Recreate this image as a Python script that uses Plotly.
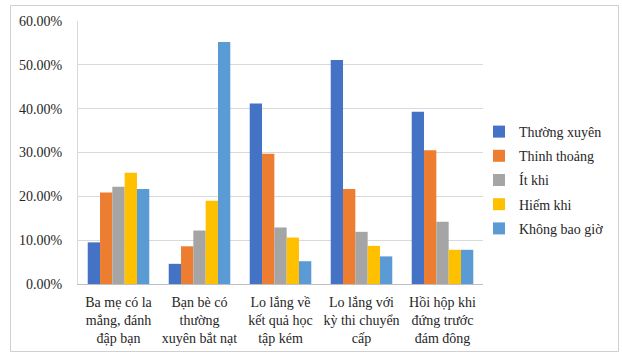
import plotly.graph_objects as go

# Survey categories (x axis), one multi-line label each
categories = [
    "Ba mẹ có la<br>mắng, đánh<br>đập bạn",
    "Bạn bè có<br>thường<br>xuyên bắt nạt",
    "Lo lắng về<br>kết quả học<br>tập kém",
    "Lo lắng với<br>kỳ thi chuyển<br>cấp",
    "Hồi hộp khi<br>đứng trước<br>đám đông",
]

# Response frequency series (percent)
thuong_xuyen = [9.5, 4.6, 41.2, 51.1, 39.3]
thinh_thoang = [20.9, 8.6, 29.7, 21.7, 30.5]
it_khi = [22.2, 12.2, 12.9, 11.9, 14.2]
hiem_khi = [25.4, 19.0, 10.6, 8.7, 7.8]
khong_bao_gio = [21.7, 55.2, 5.2, 6.3, 7.8]

series_names = ["Thường xuyên", "Thỉnh thoảng", "Ít khi", "Hiếm khi", "Không bao giờ"]
series_values = [thuong_xuyen, thinh_thoang, it_khi, hiem_khi, khong_bao_gio]
colors = ["#4472C4", "#ED7D31", "#A5A5A5", "#FFC000", "#5B9BD5"]

y_ticks = [0, 10, 20, 30, 40, 50, 60]
y_tick_text = [f"{v:.2f}%" for v in y_ticks]

FONT = "'Times New Roman', 'Liberation Serif', serif"
W, H = 622, 354
L, R, T, B = 78, 139, 21, 70

fig = go.Figure()
for i, (name, vals, col) in enumerate(zip(series_names, series_values, colors)):
    fig.add_trace(go.Bar(
        x=categories, y=vals, name=name, marker_color=col,
        marker_line_width=0, legendgroup=f"g{i}",
    ))

pw = W - L - R
ph = H - T - B

def px_to_paper_x(px):
    return (px - L) / pw

def px_to_paper_y(py):
    return (H - B - py) / ph

fig.update_layout(
    width=W, height=H,
    margin=dict(l=L, r=R, t=T, b=B, autoexpand=False),
    paper_bgcolor="white", plot_bgcolor="white",
    barmode="group", bargap=0.24, bargroupgap=0,
    font=dict(family=FONT, size=14, color="#262626"),
    showlegend=True,
    legend=dict(
        x=px_to_paper_x(479), y=px_to_paper_y(116), xanchor="left", yanchor="top",
        font=dict(family=FONT, size=14, color="#262626"),
        tracegroupgap=3, itemwidth=30, bgcolor="rgba(0,0,0,0)",
    ),
    xaxis=dict(
        showgrid=False, showline=True, linecolor="#BFBFBF", linewidth=1,
        ticks="", tickangle=0,
        tickfont=dict(family=FONT, size=14, color="#262626"),
        ticklabelstandoff=5, automargin=False,
    ),
    yaxis=dict(
        range=[0, 60], tickvals=y_ticks, ticktext=y_tick_text,
        showgrid=True, gridcolor="#D9D9D9", gridwidth=1,
        showline=True, linecolor="#D9D9D9", linewidth=1,
        zeroline=False, ticks="", automargin=False,
        tickfont=dict(family=FONT, size=14, color="#262626"),
        ticklabelstandoff=12,
    ),
    shapes=[dict(
        type="rect", xref="paper", yref="paper",
        x0=px_to_paper_x(10.5), x1=px_to_paper_x(618.5),
        y0=px_to_paper_y(351.5), y1=px_to_paper_y(5.5),
        line=dict(color="#D0D0D0", width=1), fillcolor="rgba(0,0,0,0)",
        layer="below",
    )],
)

fig.write_html("out.html")
